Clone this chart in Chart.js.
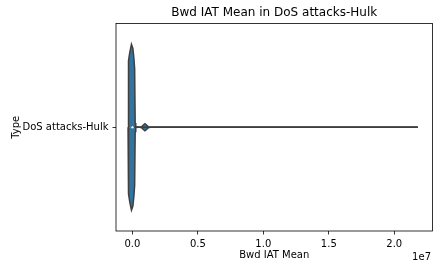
<!DOCTYPE html>
<html>
<head>
<meta charset="utf-8">
<script src="https://cdn.jsdelivr.net/npm/chart.js@4/dist/chart.umd.min.js"></script>
<style>
    html, body { margin: 0; padding: 0; background: #fff; }
    canvas { display: block; }
</style>
</head>
<body>
<canvas id="chart" width="437" height="262"></canvas>
<script>
// The one category on the y axis.
const categories = [ "DoS attacks-Hulk" ];
// Tick positions on the x axis (raw values, shown divided by 1e7).
const xTicks = [ 0, 5e6, 1e7, 1.5e7, 2e7 ];
// Violin outline: Bwd IAT Mean values and the half-width
// of the density at each of them (0.4 is the widest point).
const kdeValues = [ -330000, -305000, -285000, -200000, -70000, 40000, 120000, 175000,
    215000, 260000, 400000, 600000, 720000, 860000, 960000, 1060000, 1200000, 1400000,
    5000000, 12000000, 21800000 ];
const kdeWidths = [ 0, 0.24, 0.32, 0.36, 0.40, 0.38, 0.33, 0.28,
    0.02, 0.003, 0.0004, 0.0004, 0.003, 0.012, 0.017, 0.012, 0.003, 0.0004,
    0.0003, 0.0002, 0 ];
// Inner box: whisker ends, quartiles and the median.
const whiskers = [ 0, 21790000 ];
const quartiles = [ 2000, 40000 ];
const medians = [ 9000 ];

const fillColor = "#3274a1";
const edgeColor = "#3f3f3f";
const fontFamily = "'DejaVu Sans', sans-serif";

/**
 * Draws the frame round the plot and the "1e7" offset text of the x axis.
 */
const framePlugin = {
    id: "frame",
    afterDraw( chart ) {
        const ctx = chart.ctx;
        const a = chart.chartArea;
        ctx.save();
        ctx.strokeStyle = "#000";
        ctx.lineWidth = 0.8;
        ctx.strokeRect( a.left, a.top, a.right - a.left, a.bottom - a.top );
        ctx.fillStyle = "#000";
        ctx.font = "10px " + fontFamily;
        ctx.textAlign = "right";
        ctx.textBaseline = "alphabetic";
        ctx.fillText( "1e7", a.right - 1.5, 259.5 );
        ctx.restore();
    }
};

/**
 * Builds one half of the violin outline, above (+1) or below (-1) the centre line.
 * @param {number} side 1 for the upper half, -1 for the lower one.
 */
function violinHalf( side ) {
    return {
        data: kdeValues.map( ( v, i ) => ({ x: v, y: side * kdeWidths[ i ] }) ),
        fill: "origin",
        backgroundColor: fillColor,
        borderColor: edgeColor,
        borderWidth: 1.5,
        pointRadius: 0,
        tension: 0,
        order: 3
    };
}

/**
 * Settings shared by both axes.
 * @param {String} title The axis title.
 * @param {Object} padding Padding round the title.
 */
function axisBase( title, padding ) {
    return {
        type: "linear",
        grid: { drawOnChartArea: false, drawTicks: true, tickLength: 3.5, color: "#000", lineWidth: 0.8 },
        border: { display: false },
        title: { display: true, text: title, color: "#000", font: { size: 10 }, padding: padding }
    };
}

const xAxis = axisBase( "Bwd IAT Mean", { top: 0, bottom: 1 } );
xAxis.min = -1250000;
xAxis.max = 22920000;
xAxis.afterBuildTicks = function( scale ) { scale.ticks = xTicks.map( v => ({ value: v }) ); };
xAxis.afterFit = function( scale ) { scale.height = 31; };
xAxis.ticks = { color: "#000", font: { size: 10 }, padding: 3.5, maxRotation: 0,
    callback: v => ( v / 1e7 ).toFixed( 1 ) };

const yAxis = axisBase( "Type", { top: 10, bottom: 0 } );
yAxis.min = -0.5;
yAxis.max = 0.5;
yAxis.afterBuildTicks = function( scale ) { scale.ticks = categories.map( ( c, i ) => ({ value: i }) ); };
yAxis.afterFit = function( scale ) { scale.width = 116; };
yAxis.ticks = { color: "#000", font: { size: 10 }, padding: 4,
    callback: ( v, i ) => categories[ i ] };

Chart.defaults.font.family = fontFamily;
Chart.defaults.color = "#000";

new Chart( document.getElementById( "chart" ), {
    type: "line",
    data: {
        datasets: [
            violinHalf( 1 ),
            violinHalf( -1 ),
            {
                data: whiskers.map( v => ({ x: v, y: 0 }) ),
                borderColor: edgeColor, borderWidth: 1.5, pointRadius: 0, order: 2
            },
            {
                data: quartiles.map( v => ({ x: v, y: 0 }) ),
                borderColor: edgeColor, borderWidth: 4.5, pointRadius: 0, order: 1
            },
            {
                data: medians.map( v => ({ x: v, y: 0 }) ),
                showLine: false, pointRadius: 1.5, pointBorderWidth: 0.5,
                pointBackgroundColor: "#fff", pointBorderColor: edgeColor, order: 0
            }
        ]
    },
    options: {
        responsive: false,
        animation: false,
        devicePixelRatio: 1,
        layout: { padding: { left: 0, right: 0.5, top: 0, bottom: 0 } },
        scales: { x: xAxis, y: yAxis },
        plugins: {
            legend: { display: false },
            tooltip: { enabled: false },
            filler: { drawTime: "beforeDatasetsDraw" },
            title: {
                display: true,
                text: "Bwd IAT Mean in DoS attacks-Hulk",
                fullSize: false,
                color: "#000",
                font: { size: 12, weight: "normal" },
                padding: { top: 6, bottom: 3.1 }
            }
        }
    },
    plugins: [ framePlugin ]
});
</script>
</body>
</html>
